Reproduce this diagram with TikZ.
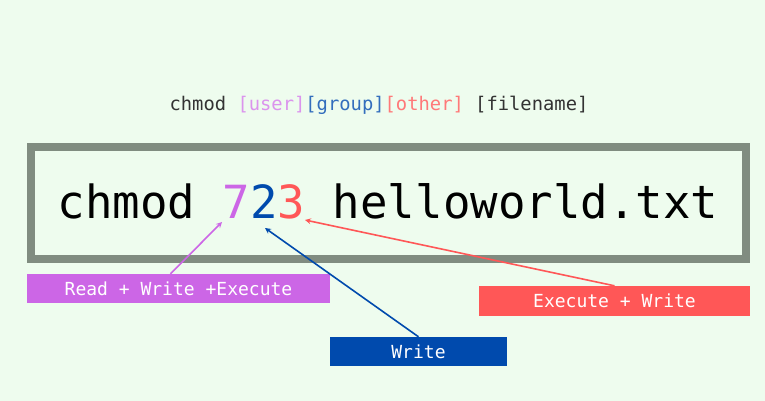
\documentclass[tikz,border=0pt]{standalone}
\usepackage{fontspec}
\setmonofont{DejaVu Sans Mono}

\definecolor{bggreen}{RGB}{238,252,238}
\definecolor{framegray}{RGB}{128,140,128}
\definecolor{usercol}{RGB}{204,102,230}
\definecolor{groupcol}{RGB}{0,74,173}
\definecolor{othercol}{RGB}{255,87,87}

\tikzset{
  permbox/.style={inner sep=0pt, minimum height=29pt, text=white,
    font=\ttfamily\fontsize{18}{21}\selectfont},
  pointer/.style={->, >=stealth, line width=1.6pt}
}

\begin{document}
\begin{tikzpicture}[x=1pt,y=-1pt]
\begin{scope}
\fill[bggreen] (0,0) rectangle (765,401);
\useasboundingbox (0,0) rectangle (765,401);
% syntax line
\node[anchor=base, font=\ttfamily\fontsize{18.8}{22}\selectfont, text=black!80] (syntax) at (379,111)
  {chmod {\color{usercol!70}[user]}{\color{groupcol!80}[group]}{\color{othercol!80}[other]} [filename]};
% command box
\draw[framegray, line width=8pt] (31,147) rectangle (746,259);
\node[anchor=base, font=\ttfamily\fontsize{45.7}{50}\selectfont] (cmd) at (388,218)
  {chmod {\color{usercol}7}{\color{groupcol}2}{\color{othercol}3} helloworld.txt};
\coordinate (seven) at (222,222);
\coordinate (two) at (265,228);
\coordinate (three) at (305,220);
% permission boxes
\node[permbox, fill=usercol, minimum width=303pt] (rwx) at (178.5,288.5) {Read + Write +Execute};
\node[permbox, fill=othercol, minimum width=271pt, minimum height=30pt] (xw) at (614.5,301) {Execute + Write};
\node[permbox, fill=groupcol, minimum width=177pt] (w) at (418.5,351.5) {Write};
\draw[pointer, usercol] ([xshift=-8pt]rwx.north) -- (seven);
\draw[pointer, groupcol] (w.north) -- (two);
\draw[pointer, othercol] (xw.north) -- (three);
\end{scope}
\end{tikzpicture}
\end{document}
